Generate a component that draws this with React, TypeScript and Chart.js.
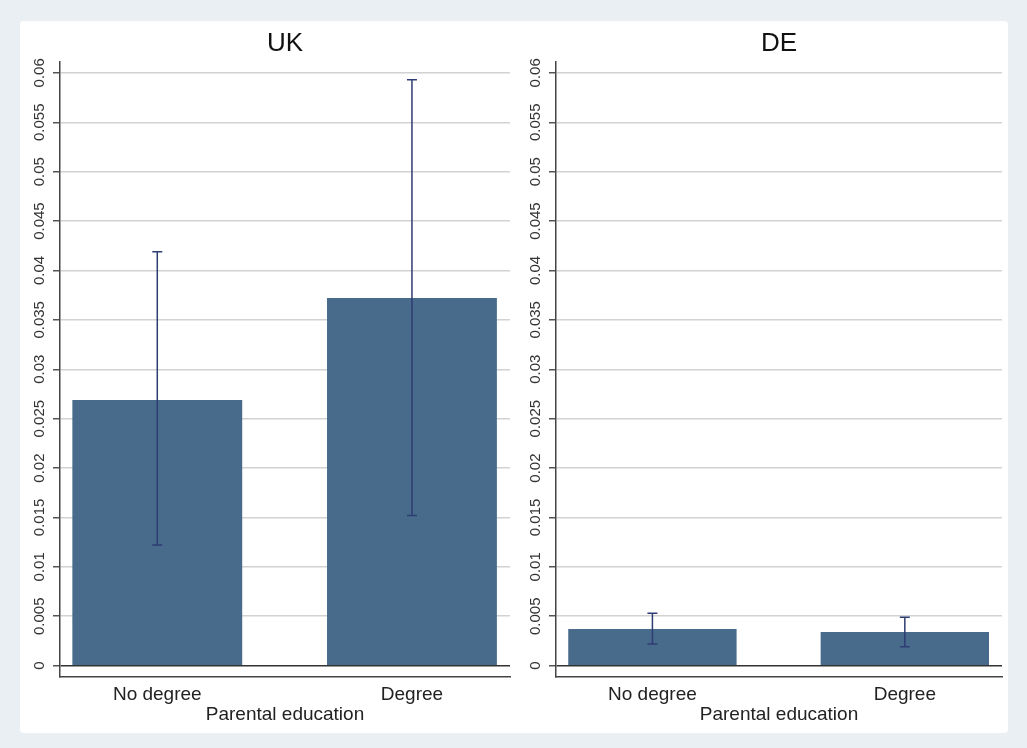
import React, { useEffect, useRef } from "react";
import { Chart, registerables } from "chart.js";

Chart.register(...registerables);

// Categories on the x axis and their positions on the linear axis
const CATEGORIES = ["No degree", "Degree"];
const X_POS = [1, 2];

// UK: means with lower / upper confidence bounds
const UK_MEAN = [0.0269, 0.0372];
const UK_LOW = [0.0122, 0.0152];
const UK_HIGH = [0.0419, 0.0593];

// DE: means with lower / upper confidence bounds
const DE_MEAN = [0.0037, 0.0034];
const DE_LOW = [0.0022, 0.0019];
const DE_HIGH = [0.0053, 0.0049];

// Y axis ticks and their labels
const Y_TICKS = [0, 0.005, 0.01, 0.015, 0.02, 0.025, 0.03, 0.035, 0.04, 0.045, 0.05, 0.055, 0.06];
const Y_TICK_LABELS = ["0", "0.005", "0.01", "0.015", "0.02", "0.025", "0.03", "0.035", "0.04", "0.045", "0.05", "0.055", "0.06"];

const FONT = "'Liberation Sans', Arial, Helvetica, sans-serif";
const BAR_COLOR = "#486b8b";
const CI_COLOR = "#2e3d73";

type PanelProps = {
  title: string;
  mean: number[];
  low: number[];
  high: number[];
  left: number;
  width: number;
};

function Panel({ title, mean, low, high, left, width }: PanelProps) {
  const ref = useRef<HTMLCanvasElement | null>(null);

  useEffect(() => {
    if (!ref.current) return;

    // Rotated y tick labels, reading bottom to top
    const yLabels = {
      id: "rotatedYLabels",
      afterDraw(chart: any) {
        const { ctx, chartArea } = chart;
        const y = chart.scales.y;
        ctx.save();
        ctx.font = `15px ${FONT}`;
        ctx.fillStyle = "#333";
        ctx.textAlign = "center";
        ctx.textBaseline = "middle";
        Y_TICKS.forEach((v, i) => {
          const py = y.getPixelForValue(v);
          ctx.save();
          ctx.translate(chartArea.left - 20, py);
          ctx.rotate(-Math.PI / 2);
          ctx.fillText(Y_TICK_LABELS[i], 0, 0);
          ctx.restore();
        });
        ctx.restore();
      },
    };

    // Capped confidence-interval spikes over each bar
    const errorBars = {
      id: "errorBars",
      afterDatasetsDraw(chart: any) {
        const { ctx } = chart;
        const y = chart.scales.y;
        const meta = chart.getDatasetMeta(0);
        ctx.save();
        ctx.strokeStyle = CI_COLOR;
        ctx.lineWidth = 1.5;
        meta.data.forEach((bar: any, i: number) => {
          const x = bar.x;
          const yl = y.getPixelForValue(low[i]);
          const yh = y.getPixelForValue(high[i]);
          const cap = 5;
          ctx.beginPath();
          ctx.moveTo(x, yl);
          ctx.lineTo(x, yh);
          ctx.moveTo(x - cap, yh);
          ctx.lineTo(x + cap, yh);
          ctx.moveTo(x - cap, yl);
          ctx.lineTo(x + cap, yl);
          ctx.stroke();
        });
        ctx.restore();
      },
    };

    const chart = new Chart(ref.current, {
      type: "bar",
      data: {
        datasets: [
          {
            data: CATEGORIES.map((_, i) => ({ x: X_POS[i], y: mean[i] })),
            backgroundColor: BAR_COLOR,
            borderWidth: 0,
            categoryPercentage: 1,
            barPercentage: 0.667,
          },
        ],
      },
      options: {
        responsive: false,
        animation: false,
        events: [],
        layout: { padding: { left: 0, right: 5, top: 0, bottom: 0 } },
        plugins: {
          legend: { display: false },
          tooltip: { enabled: false },
          title: {
            display: true,
            text: title,
            fullSize: false,
            color: "#111",
            font: { family: FONT, size: 26, weight: "normal", lineHeight: 1.2 },
            padding: { top: 7.4, bottom: 2.4 },
          },
        },
        scales: {
          x: {
            type: "linear",
            min: 0.618,
            max: 2.385,
            offset: false,
            grid: { display: false, drawTicks: false, offset: false },
            border: { display: true, color: "#444", width: 1.5 },
            afterBuildTicks: (s: any) => {
              s.ticks = X_POS.map((v) => ({ value: v }));
            },
            ticks: {
              autoSkip: false,
              maxRotation: 0,
              minRotation: 0,
              padding: 8.5,
              color: "#222",
              font: { family: FONT, size: 19, lineHeight: 1 },
              callback: (v: any) => {
                const idx = X_POS.indexOf(Number(v));
                return idx >= 0 ? CATEGORIES[idx] : "";
              },
            },
            title: {
              display: true,
              text: "Parental education",
              color: "#222",
              font: { family: FONT, size: 19, lineHeight: 1 },
              padding: { top: -7, bottom: 8.5 },
            },
          },
          y: {
            type: "linear",
            min: -0.0011,
            max: 0.0611,
            afterBuildTicks: (s: any) => {
              s.ticks = Y_TICKS.map((v) => ({ value: v }));
            },
            afterFit: (s: any) => {
              s.width = 40;
            },
            ticks: { display: false },
            grid: {
              color: (c: any) => (c.tick && c.tick.value === 0 ? "#333" : "#d2d2d2"),
              lineWidth: 1.5,
              drawTicks: true,
              tickLength: 7,
              tickColor: "#555",
            },
            border: { display: true, color: "#444", width: 1.5 },
          },
        },
      } as any,
      plugins: [yLabels, errorBars],
    });

    return () => chart.destroy();
  }, [title, mean, low, high]);

  return (
    <canvas
      ref={ref}
      width={width}
      height={712}
      style={{ position: "absolute", left, top: 21, width, height: 712 }}
    />
  );
}

export default function App() {
  return (
    <div
      style={{
        position: "fixed",
        left: 0,
        top: 0,
        width: 1027,
        height: 748,
        background: "#e9eff3",
        overflow: "hidden",
      }}
    >
      <div
        style={{
          position: "absolute",
          left: 20,
          top: 21,
          width: 988,
          height: 712,
          background: "#ffffff",
          borderRadius: 4,
        }}
      />
      <Panel title="UK" mean={UK_MEAN} low={UK_LOW} high={UK_HIGH} left={20} width={495} />
      <Panel title="DE" mean={DE_MEAN} low={DE_LOW} high={DE_HIGH} left={516} width={491} />
    </div>
  );
}
